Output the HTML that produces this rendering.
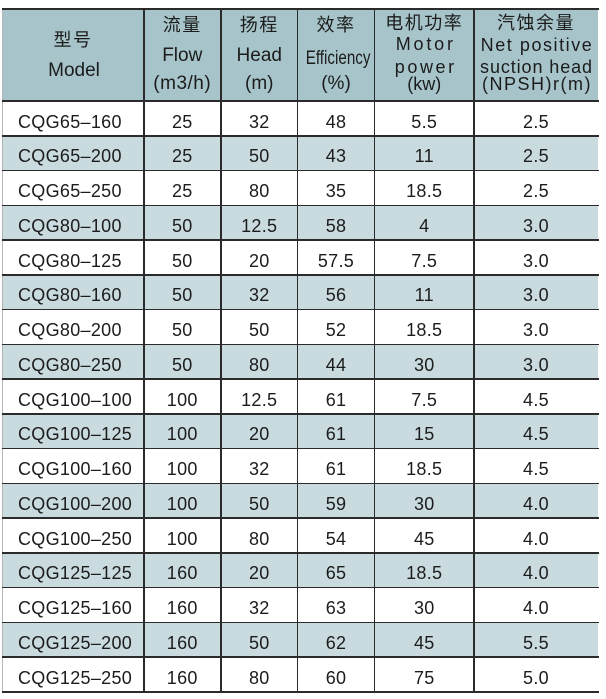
<!DOCTYPE html>
<html>
<head>
<meta charset="utf-8">
<style>
html,body{margin:0;padding:0;background:#fff;}
body{width:606px;height:699px;position:relative;overflow:hidden;font-family:"Liberation Sans","Noto Sans CJK SC",sans-serif;color:#1c1c1c;}
.a{position:absolute;}
.hl{position:absolute;left:2px;width:597px;background:#2b2b2b;}
.vl{position:absolute;top:8px;height:684px;width:1.5px;background:#2b2b2b;}
.row{position:absolute;left:3px;width:595px;height:34.76px;}
.sh{background:#c9dbdf;}
.c{position:absolute;top:11.5px;font-size:18px;line-height:18px;letter-spacing:0.3px;text-align:center;white-space:nowrap;}
.c1{left:15px;text-align:left;}
.c2{left:140.5px;width:77.5px;}
.c3{left:218px;width:76.5px;}
.c4{left:294.5px;width:77px;}
.c5{left:371.5px;width:99.5px;}
.c6{left:471px;width:124px;}
.h{position:absolute;text-align:center;white-space:nowrap;}
.cj{font-size:18px;line-height:18px;letter-spacing:1.5px;}
.en{font-size:19px;line-height:19px;}
.sm{font-size:18px;line-height:18px;}
</style>
</head>
<body>
<!-- header background -->
<div class="a" style="left:3px;top:9px;width:595px;height:92px;background:#a6c4c9;"></div>
<!-- faint left edge -->
<div class="a" style="left:2px;top:9px;width:1px;height:683px;background:#b5b5b5;"></div>

<!-- header text: column 1 (3-143.5) -->
<div class="h cj" style="left:3px;width:140px;top:31px;">型号</div>
<div class="h en" style="left:3px;width:142px;top:61.2px;">Model</div>

<!-- column 2 (143.5-221) -->
<div class="h cj" style="left:143.5px;width:77.5px;top:16px;">流量</div>
<div class="h en" style="left:143.5px;width:77.5px;top:46.2px;">Flow</div>
<div class="h en" style="left:143.5px;width:77.5px;top:74.2px;letter-spacing:0.5px;">(m3/h)</div>

<!-- column 3 (221-297.5) -->
<div class="h cj" style="left:221px;width:76.5px;top:16px;">扬程</div>
<div class="h en" style="left:221px;width:76.5px;top:46.2px;">Head</div>
<div class="h en" style="left:221px;width:76.5px;top:74.2px;">(m)</div>

<!-- column 4 (297.5-374.5) -->
<div class="h cj" style="left:297.5px;width:77px;top:16px;">效率</div>
<div class="h en" style="left:297.5px;width:77px;top:49.2px;transform:scaleX(0.8);transform-origin:center;">Efficiency</div>
<div class="h en" style="left:297.5px;width:77px;top:74.2px;">(%)</div>

<!-- column 5 (374.5-474) -->
<div class="h cj" style="left:374.5px;width:99.5px;top:14px;">电机功率</div>
<div class="h sm" style="left:376px;width:99.5px;top:35px;letter-spacing:2.8px;">Motor</div>
<div class="h sm" style="left:376px;width:99.5px;top:57.5px;letter-spacing:2.6px;">power</div>
<div class="h sm" style="left:374.5px;width:99.5px;top:74.5px;">(kw)</div>

<!-- column 6 (474-598) -->
<div class="h cj" style="left:474px;width:124px;top:14px;">汽蚀余量</div>
<div class="h sm" style="left:475px;width:124px;top:35.5px;letter-spacing:1.55px;">Net positive</div>
<div class="h sm" style="left:474.5px;width:124px;top:57.5px;letter-spacing:0.9px;">suction head</div>
<div class="h sm" style="left:475px;width:124px;top:75px;letter-spacing:1.5px;">(NPSH)r(m)</div>

<!-- rows -->
<div class="row" style="top:101px;"><div class="c c1">CQG65–160</div><div class="c c2">25</div><div class="c c3">32</div><div class="c c4">48</div><div class="c c5">5.5</div><div class="c c6">2.5</div></div>
<div class="row sh" style="top:135.76px;"><div class="c c1">CQG65–200</div><div class="c c2">25</div><div class="c c3">50</div><div class="c c4">43</div><div class="c c5">11</div><div class="c c6">2.5</div></div>
<div class="row" style="top:170.52px;"><div class="c c1">CQG65–250</div><div class="c c2">25</div><div class="c c3">80</div><div class="c c4">35</div><div class="c c5">18.5</div><div class="c c6">2.5</div></div>
<div class="row sh" style="top:205.28px;"><div class="c c1">CQG80–100</div><div class="c c2">50</div><div class="c c3">12.5</div><div class="c c4">58</div><div class="c c5">4</div><div class="c c6">3.0</div></div>
<div class="row" style="top:240.04px;"><div class="c c1">CQG80–125</div><div class="c c2">50</div><div class="c c3">20</div><div class="c c4">57.5</div><div class="c c5">7.5</div><div class="c c6">3.0</div></div>
<div class="row sh" style="top:274.8px;"><div class="c c1">CQG80–160</div><div class="c c2">50</div><div class="c c3">32</div><div class="c c4">56</div><div class="c c5">11</div><div class="c c6">3.0</div></div>
<div class="row" style="top:309.56px;"><div class="c c1">CQG80–200</div><div class="c c2">50</div><div class="c c3">50</div><div class="c c4">52</div><div class="c c5">18.5</div><div class="c c6">3.0</div></div>
<div class="row sh" style="top:344.32px;"><div class="c c1">CQG80–250</div><div class="c c2">50</div><div class="c c3">80</div><div class="c c4">44</div><div class="c c5">30</div><div class="c c6">3.0</div></div>
<div class="row" style="top:379.08px;"><div class="c c1">CQG100–100</div><div class="c c2">100</div><div class="c c3">12.5</div><div class="c c4">61</div><div class="c c5">7.5</div><div class="c c6">4.5</div></div>
<div class="row sh" style="top:413.84px;"><div class="c c1">CQG100–125</div><div class="c c2">100</div><div class="c c3">20</div><div class="c c4">61</div><div class="c c5">15</div><div class="c c6">4.5</div></div>
<div class="row" style="top:448.6px;"><div class="c c1">CQG100–160</div><div class="c c2">100</div><div class="c c3">32</div><div class="c c4">61</div><div class="c c5">18.5</div><div class="c c6">4.5</div></div>
<div class="row sh" style="top:483.36px;"><div class="c c1">CQG100–200</div><div class="c c2">100</div><div class="c c3">50</div><div class="c c4">59</div><div class="c c5">30</div><div class="c c6">4.0</div></div>
<div class="row" style="top:518.12px;"><div class="c c1">CQG100–250</div><div class="c c2">100</div><div class="c c3">80</div><div class="c c4">54</div><div class="c c5">45</div><div class="c c6">4.0</div></div>
<div class="row sh" style="top:552.88px;"><div class="c c1">CQG125–125</div><div class="c c2">160</div><div class="c c3">20</div><div class="c c4">65</div><div class="c c5">18.5</div><div class="c c6">4.0</div></div>
<div class="row" style="top:587.64px;"><div class="c c1">CQG125–160</div><div class="c c2">160</div><div class="c c3">32</div><div class="c c4">63</div><div class="c c5">30</div><div class="c c6">4.0</div></div>
<div class="row sh" style="top:622.4px;"><div class="c c1">CQG125–200</div><div class="c c2">160</div><div class="c c3">50</div><div class="c c4">62</div><div class="c c5">45</div><div class="c c6">5.5</div></div>
<div class="row" style="top:657.16px;"><div class="c c1">CQG125–250</div><div class="c c2">160</div><div class="c c3">80</div><div class="c c4">60</div><div class="c c5">75</div><div class="c c6">5.0</div></div>

<!-- horizontal lines -->
<div class="hl" style="top:7.5px;height:2px;"></div>
<div class="hl" style="top:100.2px;height:1.6px;"></div>
<div class="hl" style="top:135px;height:1.5px;"></div>
<div class="hl" style="top:169.8px;height:1.5px;"></div>
<div class="hl" style="top:204.5px;height:1.5px;"></div>
<div class="hl" style="top:239.3px;height:1.5px;"></div>
<div class="hl" style="top:274px;height:1.5px;"></div>
<div class="hl" style="top:308.8px;height:1.5px;"></div>
<div class="hl" style="top:343.6px;height:1.5px;"></div>
<div class="hl" style="top:378.3px;height:1.5px;"></div>
<div class="hl" style="top:413.1px;height:1.5px;"></div>
<div class="hl" style="top:447.8px;height:1.5px;"></div>
<div class="hl" style="top:482.6px;height:1.5px;"></div>
<div class="hl" style="top:517.4px;height:1.5px;"></div>
<div class="hl" style="top:552.1px;height:1.5px;"></div>
<div class="hl" style="top:586.9px;height:1.5px;"></div>
<div class="hl" style="top:621.6px;height:1.5px;"></div>
<div class="hl" style="top:656.4px;height:1.5px;"></div>
<div class="hl" style="top:691px;height:2px;"></div>

<!-- vertical lines -->
<div class="vl" style="left:143px;"></div>
<div class="vl" style="left:220.3px;"></div>
<div class="vl" style="left:296.8px;"></div>
<div class="vl" style="left:373.8px;"></div>
<div class="vl" style="left:473.3px;"></div>
</body>
</html>
